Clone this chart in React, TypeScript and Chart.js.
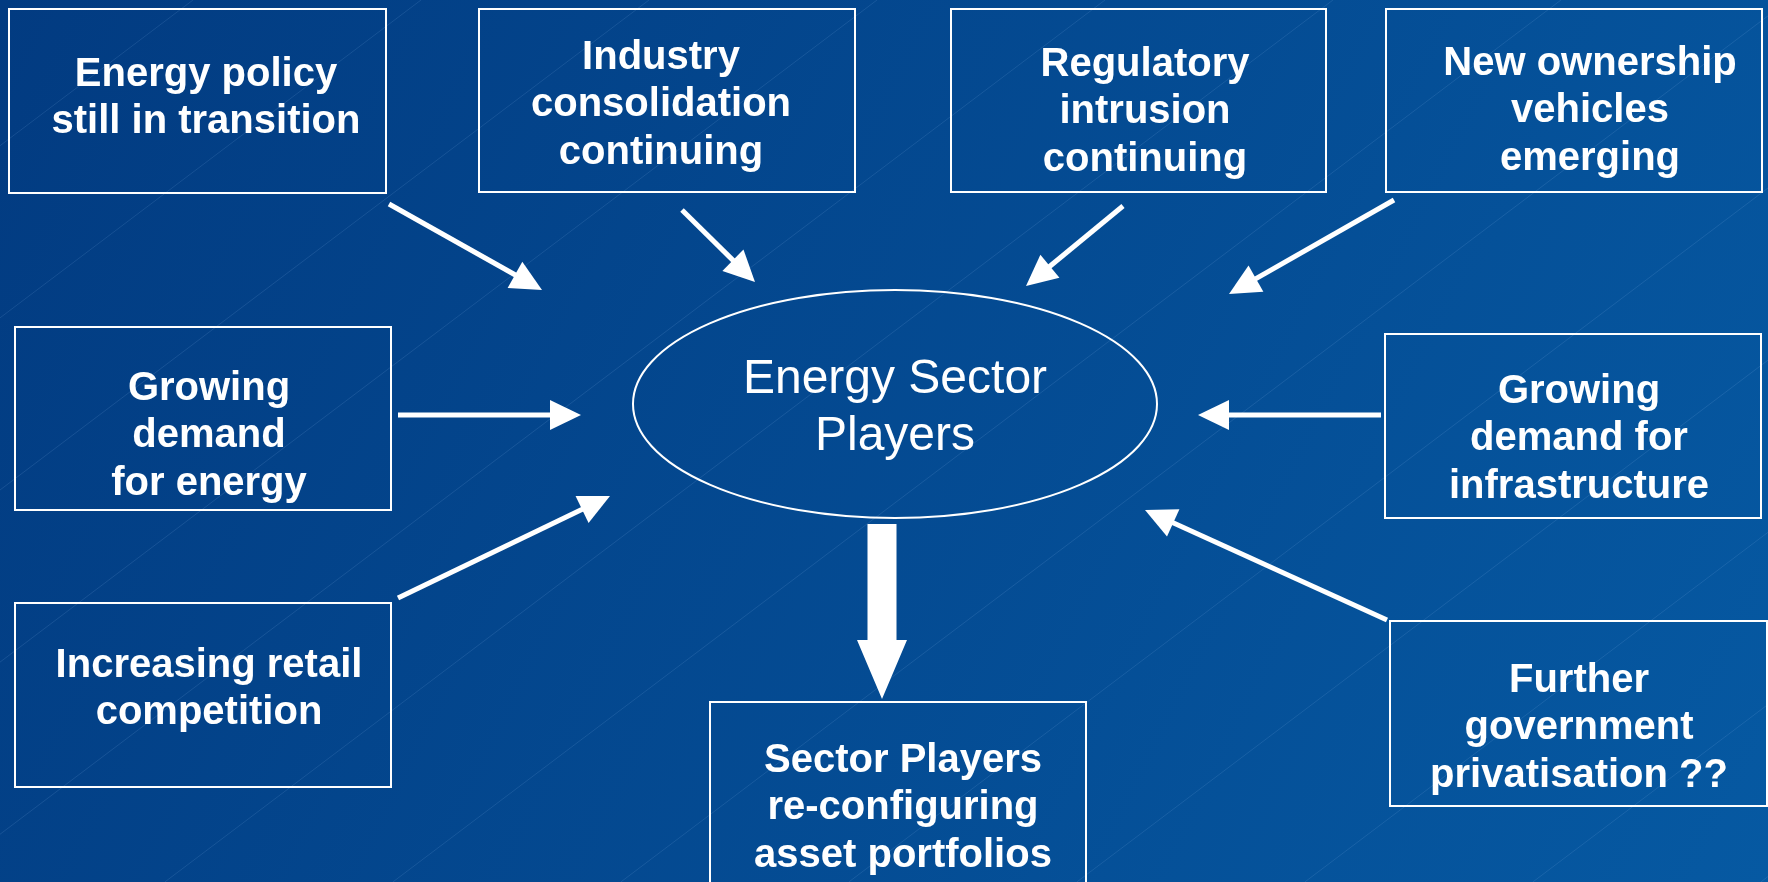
import React, { useEffect, useRef } from "react";
import { Chart, registerables } from "chart.js";

Chart.register(...registerables);

// ---- content ----
const BOX_LINES: string[][] = [
  ["Energy policy", "still in transition"],
  ["Industry", "consolidation", "continuing"],
  ["Regulatory", "intrusion", "continuing"],
  ["New ownership", "vehicles", "emerging"],
  ["Growing", "demand", "for energy"],
  ["Increasing retail", "competition"],
  ["Sector Players", "re-configuring", "asset portfolios"],
  ["Growing", "demand for", "infrastructure"],
  ["Further", "government", "privatisation ??"],
];
const CENTER_LINES = ["Energy Sector", "Players"];

// ---- geometry (data-space coordinates, x 0..1768, y 0..882 top-down) ----
const BOX_LEFT = [9, 479, 951, 1386, 15, 15, 710, 1385, 1390];
const BOX_TOP = [9, 9, 9, 9, 327, 603, 702, 334, 621];
const BOX_RIGHT = [386, 855, 1326, 1762, 391, 391, 1086, 1761, 1767];
const BOX_BOTTOM = [193, 192, 192, 192, 510, 787, 900, 518, 806];
const TEXT_X = [206, 661, 1145, 1590, 209, 209, 903, 1579, 1579];
const TEXT_Y = [74.5, 57.5, 64.5, 63.5, 388.5, 665.5, 760.5, 391.5, 680.5];

const ARROW_FROM_X = [389, 682, 1123, 1394, 398, 398, 1381, 1387];
const ARROW_FROM_Y = [204, 210, 206, 200, 415, 598, 415, 620];
const ARROW_TO_X = [542, 755, 1026, 1229, 581, 610, 1198, 1145];
const ARROW_TO_Y = [290, 282, 286, 294, 415, 496, 415, 510];

const ELLIPSE_CX = 895;
const ELLIPSE_CY = 404;
const ELLIPSE_RX = 262;
const ELLIPSE_RY = 114;
const CENTER_TEXT_Y = [380, 437];

const BIG_ARROW_X = 882;
const BIG_ARROW_TOP = 524;
const BIG_ARROW_TIP = 699;

export default function App() {
  const ref = useRef<HTMLCanvasElement | null>(null);

  useEffect(() => {
    document.body.style.margin = "0";
    const canvas = ref.current!;
    const diagram = {
      id: "diagram",
      beforeDraw(chart: any) {
        const { ctx, scales } = chart;
        const X = (v: number) => scales.x.getPixelForValue(v);
        const Y = (v: number) => scales.y.getPixelForValue(v);
        const W = chart.width;
        const H = chart.height;
        ctx.save();
        const g = ctx.createLinearGradient(0, 0, W, H);
        g.addColorStop(0, "#023b81");
        g.addColorStop(1, "#0659a2");
        ctx.fillStyle = g;
        ctx.fillRect(0, 0, W, H);
        // faint diagonal lines
        ctx.strokeStyle = "rgba(150,190,240,0.14)";
        ctx.lineWidth = 1;
        const slope = 0.755;
        for (let x0 = 193 - 228 * 6; x0 < 1768 + 1400; x0 += 228) {
          ctx.beginPath();
          ctx.moveTo(X(x0), Y(0));
          ctx.lineTo(X(x0 - 882 / slope), Y(882));
          ctx.stroke();
        }
        ctx.restore();
      },
      afterDraw(chart: any) {
        const { ctx, scales } = chart;
        const X = (v: number) => scales.x.getPixelForValue(v);
        const Y = (v: number) => scales.y.getPixelForValue(v);
        ctx.save();
        ctx.strokeStyle = "#ffffff";
        ctx.fillStyle = "#ffffff";
        // boxes
        ctx.lineWidth = 2;
        for (let i = 0; i < BOX_LINES.length; i++) {
          const l = X(BOX_LEFT[i]), t = Y(BOX_TOP[i]);
          const r = X(BOX_RIGHT[i]), b = Y(BOX_BOTTOM[i]);
          ctx.strokeRect(l, t, r - l, b - t);
          ctx.font = "bold 40px 'Liberation Sans', Arial, sans-serif";
          ctx.textAlign = "center";
          ctx.textBaseline = "middle";
          BOX_LINES[i].forEach((s, k) => {
            ctx.fillText(s, X(TEXT_X[i]), Y(TEXT_Y[i] + k * 47.5));
          });
        }
        // ellipse
        ctx.beginPath();
        ctx.ellipse(X(ELLIPSE_CX), Y(ELLIPSE_CY), ELLIPSE_RX, ELLIPSE_RY, 0, 0, Math.PI * 2);
        ctx.lineWidth = 2;
        ctx.stroke();
        ctx.font = "48px 'Liberation Sans', Arial, sans-serif";
        ctx.textAlign = "center";
        ctx.textBaseline = "middle";
        CENTER_LINES.forEach((s, k) => {
          ctx.fillText(s, X(ELLIPSE_CX), Y(CENTER_TEXT_Y[k]));
        });
        // arrows
        const headLen = 31, headHalf = 15;
        for (let i = 0; i < ARROW_FROM_X.length; i++) {
          const x1 = X(ARROW_FROM_X[i]), y1 = Y(ARROW_FROM_Y[i]);
          const x2 = X(ARROW_TO_X[i]), y2 = Y(ARROW_TO_Y[i]);
          const dx = x2 - x1, dy = y2 - y1;
          const len = Math.hypot(dx, dy);
          const ux = dx / len, uy = dy / len;
          const bx = x2 - ux * headLen, by = y2 - uy * headLen;
          ctx.beginPath();
          ctx.moveTo(x1, y1);
          ctx.lineTo(bx + ux * 2, by + uy * 2);
          ctx.lineWidth = 5;
          ctx.lineCap = "butt";
          ctx.stroke();
          ctx.beginPath();
          ctx.moveTo(x2, y2);
          ctx.lineTo(bx - uy * headHalf, by + ux * headHalf);
          ctx.lineTo(bx + uy * headHalf, by - ux * headHalf);
          ctx.closePath();
          ctx.fill();
        }
        // big arrow
        const cx = X(BIG_ARROW_X);
        const top = Y(BIG_ARROW_TOP), tip = Y(BIG_ARROW_TIP);
        const base = tip - 59;
        ctx.beginPath();
        ctx.moveTo(cx - 14.5, top);
        ctx.lineTo(cx + 14.5, top);
        ctx.lineTo(cx + 14.5, base);
        ctx.lineTo(cx + 25, base);
        ctx.lineTo(cx, tip);
        ctx.lineTo(cx - 25, base);
        ctx.lineTo(cx - 14.5, base);
        ctx.closePath();
        ctx.fill();
        ctx.restore();
      },
    };

    const chart = new Chart(canvas, {
      type: "scatter",
      data: { datasets: [{ data: [], pointRadius: 0 }] },
      options: {
        responsive: false,
        animation: false,
        events: [],
        layout: { padding: 0 },
        plugins: { legend: { display: false }, tooltip: { enabled: false } },
        scales: {
          x: { type: "linear", min: 0, max: 1768, display: false },
          y: { type: "linear", min: 0, max: 882, reverse: true, display: false },
        },
      },
      plugins: [diagram],
    });
    return () => chart.destroy();
  }, []);

  return <canvas ref={ref} width={1768} height={882} style={{ display: "block" }} />;
}
